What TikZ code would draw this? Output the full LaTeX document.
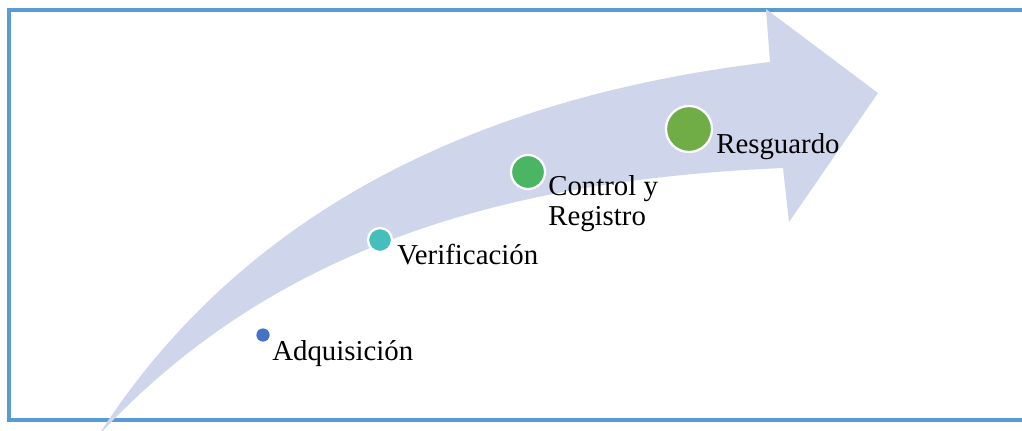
\documentclass[tikz,border=0pt]{standalone}
\usepackage{fontspec}
\setmainfont{Liberation Serif}
\usepackage{tikz}
\usetikzlibrary{positioning}
\definecolor{framec}{HTML}{5B9BD5}
\definecolor{arrowc}{HTML}{CFD5EA}
\definecolor{adqc}{HTML}{4472C4}
\definecolor{verc}{HTML}{45BFBB}
\definecolor{ctlc}{HTML}{4AB563}
\definecolor{resc}{HTML}{70AD47}
\tikzset{
    frameline/.style = {draw=framec, line width=2.2pt},
    arrowfill/.style = {fill=arrowc},
    stepdot/.style = {circle, draw=white, line width=1.6pt, inner sep=0pt},
    lbl/.style = {inner sep=0pt, align=left, font=\fontsize{20.5}{21.5}\selectfont}
}
\begin{document}
\begin{tikzpicture}[x=0.025cm, y=-0.025cm]
\useasboundingbox (0,0) rectangle (1022,430);
\clip (0,0) rectangle (1022,430);
%
\draw[frameline] (1040,10) -- (9,10) -- (9,420) -- (1040,420);
%
\fill[arrowfill] (98,436) .. controls (230,230) and (450,100) .. (770,62)
    -- (766,9) -- (878,93) -- (789,222) -- (783,168)
    .. controls (500,180) and (270,250) .. (98,436) -- cycle;
%
\node[stepdot, fill=adqc, draw=none, minimum size=0.33cm] at (263,335) (adq) {};
\node[stepdot, fill=verc, minimum size=0.6cm] at (380,240) (ver) {};
\node[stepdot, fill=ctlc, minimum size=0.85cm] at (528,172) (ctl) {};
\node[stepdot, fill=resc, minimum size=1.15cm] at (689,129) (res) {};
%
\node[lbl, anchor=base west] at (272,360) (tadq) {Adquisición};
\node[lbl, anchor=base west] at (397,264) (tver) {Verificación};
\node[lbl, anchor=north west] at (548,175) (tctl) {Control y\\Registro};
\node[lbl, anchor=base west] at (716,153) (tres) {Resguardo};

\end{tikzpicture}
\end{document}
